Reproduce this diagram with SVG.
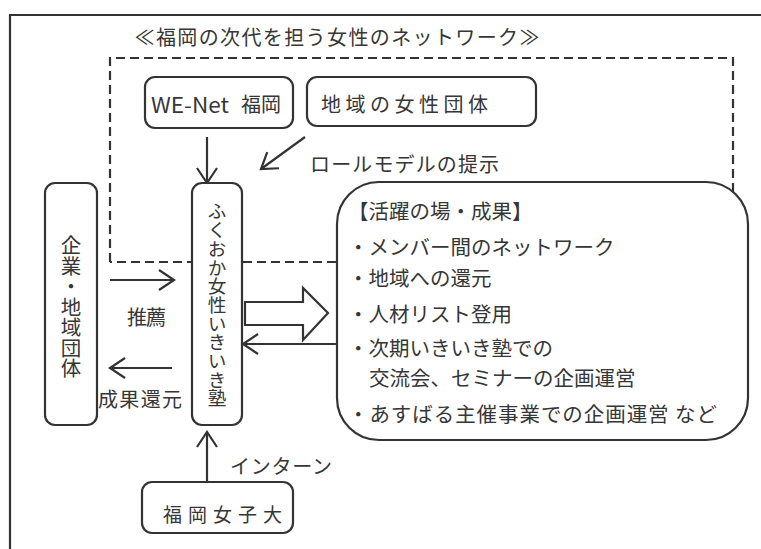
<svg xmlns="http://www.w3.org/2000/svg" width="761" height="549" viewBox="0 0 761 549">
<style>
text{font-family:"Noto Sans CJK JP","Noto Sans",sans-serif;fill:#363636;dominant-baseline:central}
.box{fill:#fff;stroke:#333;stroke-width:2.2}
.ln{fill:none;stroke:#333;stroke-width:2.2}
.vt{writing-mode:vertical-rl;text-orientation:upright}
.li{font-size:20.5px}
</style>
<defs>
<marker id="ah" markerUnits="userSpaceOnUse" markerWidth="20" markerHeight="24" viewBox="-17 -11 20 22" refX="0" refY="0" orient="auto">
<path d="M-15,-10 L0,0 L-15,10" fill="none" stroke="#333" stroke-width="2.2"/>
</marker>
</defs>
<rect width="761" height="549" fill="#fff"/>
<path class="ln" d="M10,549 V15 H761" stroke-width="2.4"/>
<text x="337" y="36" font-size="20" text-anchor="middle" textLength="405" lengthAdjust="spacing">≪福岡の次代を担う女性のネットワーク≫</text>
<path class="ln" d="M110,262 V58 H733 V262 H110" stroke-dasharray="9,5"/>
<g id="connectors">
<line class="ln" x1="207" y1="137" x2="207" y2="183" marker-end="url(#ah)"/>
<line class="ln" x1="305" y1="137" x2="261" y2="169" marker-end="url(#ah)"/>
<line class="ln" x1="110" y1="280" x2="174" y2="280" marker-end="url(#ah)"/>
<line class="ln" x1="172" y1="368" x2="110" y2="368" marker-end="url(#ah)"/>
<line class="ln" x1="345" y1="344" x2="243" y2="344" marker-end="url(#ah)"/>
<line class="ln" x1="207" y1="482" x2="207" y2="432" marker-end="url(#ah)"/>
<polygon class="box" points="245,302 303,302 303,288 328,313 303,340 303,325 245,325"/>
<text x="310" y="163" font-size="20" textLength="189" lengthAdjust="spacing">ロールモデルの提示</text>
<text x="127" y="316" font-size="20" textLength="39" lengthAdjust="spacing">推薦</text>
<text x="98" y="398" font-size="20" textLength="84" lengthAdjust="spacing">成果還元</text>
<text x="230" y="465" font-size="20" textLength="102" lengthAdjust="spacing">インターン</text>
</g>
<g id="wenet">
<rect class="box" x="145" y="77" width="148" height="51" rx="10"/>
<text x="151" y="104" font-size="21" textLength="78" lengthAdjust="spacingAndGlyphs" font-family="'Noto Sans',sans-serif">WE-Net</text>
<text x="241" y="103" font-size="20">福岡</text>
</g>
<g id="chiiki">
<rect class="box" x="307" y="77" width="229" height="49" rx="10"/>
<text x="321" y="103" font-size="20" textLength="167" lengthAdjust="spacing">地域の女性団体</text>
</g>
<g id="kigyo">
<rect class="box" x="45" y="183" width="52" height="242" rx="10"/>
<text class="vt" x="71" y="235" font-size="20.5">企業・地域団体</text>
</g>
<g id="juku">
<rect class="box" x="192" y="183" width="50" height="242" rx="10"/>
<text class="vt" x="217" y="202" font-size="18.7">ふくおか女性いきいき塾</text>
</g>
<g id="result">
<rect class="box" x="337" y="182" width="411" height="258" rx="42" stroke-width="2.5"/>
<text class="li" x="348" y="210">【活躍の場・成果】</text>
<text class="li" x="348" y="246">・メンバー間のネットワーク</text>
<text class="li" x="348" y="277">・地域への還元</text>
<text class="li" x="348" y="313">・人材リスト登用</text>
<text class="li" x="348" y="347">・次期いきいき塾での</text>
<text class="li" x="369" y="377">交流会、セミナーの企画運営</text>
<text class="li" x="348" y="413" textLength="369" lengthAdjust="spacing">・あすばる主催事業での企画運営 など</text>
</g>
<g id="joshidai">
<rect class="box" x="142" y="482" width="151" height="51" rx="10"/>
<text x="163" y="513" font-size="19" textLength="119" lengthAdjust="spacing">福岡女子大</text>
</g>
</svg>
